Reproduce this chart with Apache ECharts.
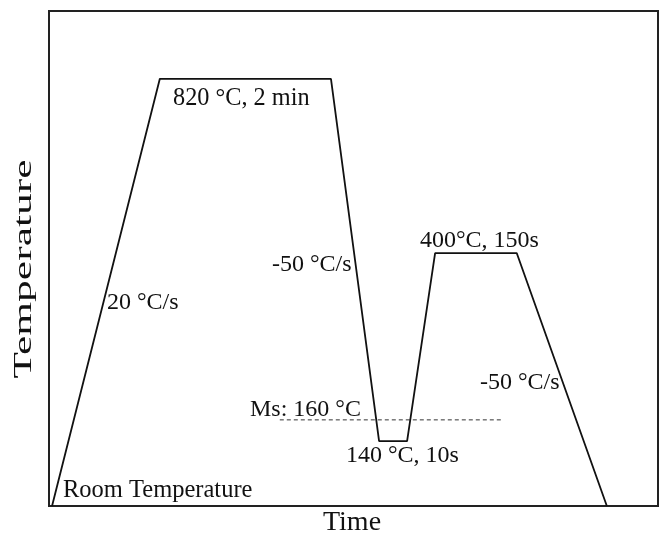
<!DOCTYPE html>
<html>
<head>
<meta charset="utf-8">
<script src="https://cdn.jsdelivr.net/npm/echarts@6/dist/echarts.min.js"></script>
<style>html,body{margin:0;padding:0;background:#fff}#c{width:662px;height:534px}</style>
</head>
<body>
<div id="c"></div>
<script>
// Schematic heat-treatment profile (relative units, as drawn)
const timeVals = [0.5, 18.2, 46.3, 54.2, 58.8, 63.4, 76.8, 91.6];
const tempVals = [0, 86.3, 86.3, 13.1, 13.1, 51.1, 51.1, 0];
const msTime = [37.9, 74.4];
const msTemp = [17.4, 17.4];
const labels = {
  hold1: '820 °C, 2 min',
  heat: '20 °C/s',
  cool1: '-50 °C/s',
  hold2: '400°C, 150s',
  ms: 'Ms: 160 °C',
  quench: '140 °C, 10s',
  cool2: '-50 °C/s',
  room: 'Room Temperature',
  xName: 'Time',
  yName: 'Temperature'
};

const chart = echarts.init(document.getElementById('c'), null, {renderer: 'canvas'});
const F = 'Liberation Serif';
const txt = (text, x, y, size, extra) => Object.assign({
  type: 'text', x: x, y: y,
  style: {text: text, font: size + 'px "' + F + '"', fill: '#111', textAlign: 'left', textVerticalAlign: 'middle'}
}, extra || {});

chart.setOption({
  animation: false,
  backgroundColor: '#fff',
  grid: {left: 49, right: 4, top: 11, bottom: 28, show: true, borderColor: '#222', borderWidth: 2, backgroundColor: 'transparent'},
  xAxis: {type: 'value', min: 0, max: 100, show: true, axisLine: {show: false}, axisTick: {show: false}, axisLabel: {show: false}, splitLine: {show: false}},
  yAxis: {type: 'value', min: 0, max: 100, show: true, axisLine: {show: false}, axisTick: {show: false}, axisLabel: {show: false}, splitLine: {show: false}},
  series: [
    {type: 'line', data: timeVals.map((t, i) => [t, tempVals[i]]), symbol: 'none', lineStyle: {color: '#111', width: 1.8}, z: 3},
    {type: 'line', data: msTime.map((t, i) => [t, msTemp[i]]), symbol: 'none', lineStyle: {color: '#333', width: 1, type: [4, 3]}, z: 2}
  ],
  graphic: [
    txt(labels.hold1, 173, 99, 24.3),
    txt(labels.heat, 107, 303, 24),
    txt(labels.cool1, 272, 265, 24),
    txt(labels.hold2, 420, 241, 24),
    txt(labels.ms, 250, 410, 24),
    txt(labels.quench, 346, 456, 24),
    txt(labels.cool2, 480, 383, 24),
    txt(labels.room, 63, 491, 24.5),
    {type: 'text', x: 352, y: 523, style: {text: labels.xName, font: '28px "' + F + '"', fill: '#111', textAlign: 'center', textVerticalAlign: 'middle'}},
    {type: 'text', x: 24, y: 269, rotation: Math.PI / 2, scaleX: 1.74, style: {text: labels.yName, font: '25px "' + F + '"', fill: '#111', textAlign: 'center', textVerticalAlign: 'middle'}}
  ]
});
</script>
</body>
</html>
